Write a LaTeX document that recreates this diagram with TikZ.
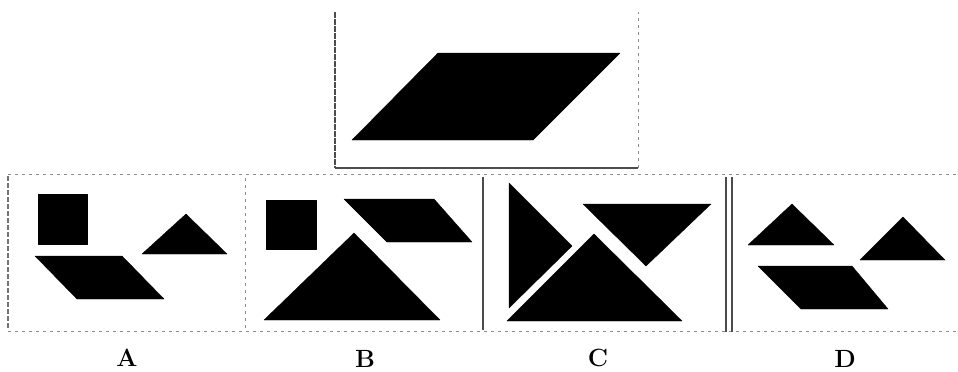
\documentclass[tikz,border=0pt]{standalone}
\begin{document}
\begin{tikzpicture}[x=1bp,y=-1bp,
  piece/.style={fill=black,draw=black,line join=round},
  solidframe/.style={draw=black!70,line width=1.2bp},
  dotframe/.style={draw=black!45,line width=0.9bp,dash pattern=on 3bp off 4bp},
  lbl/.style={font=\fontsize{25}{30}\selectfont\bfseries,inner sep=0pt}]
\useasboundingbox (0,0) rectangle (958,371);
% top frame
\draw[solidframe,dash pattern=on 6bp off 1bp] (335,12) -- (335,168);
\draw[solidframe] (335,168) -- (638,168);
\draw[dotframe] (638,168) -- (638,12);
% top parallelogram
\filldraw[piece] (438,53) -- (620,53) -- (533,140) -- (352,140) -- cycle;
% panel frames
\draw[dotframe] (8,174) -- (958,174);
\draw[dotframe] (8,331) -- (958,331);
\draw[solidframe,draw=black!55,dash pattern=on 5bp off 2bp] (8,176) -- (8,330);
\draw[dotframe] (245,178) -- (245,328);
\draw[solidframe] (483,177) -- (483,330);
\draw[solidframe,line width=1.4bp] (726,177) -- (726,332);
\draw[solidframe,line width=1.4bp] (732,177) -- (732,332);
% panel A
\filldraw[piece] (38,194) rectangle (87,244);
\filldraw[piece] (35,256) -- (122,256) -- (164,299) -- (77,299) -- cycle;
\filldraw[piece] (186,214) -- (227,254) -- (142,254) -- cycle;
\node[lbl] (la) at (127,358) {A};
% panel B
\filldraw[piece] (266,200) rectangle (316,249);
\filldraw[piece] (344,199) -- (434,199) -- (472,242) -- (387,242) -- cycle;
\filldraw[piece] (354,233) -- (440,320) -- (264,320) -- cycle;
\node[lbl] (lb) at (365,359) {B};
% panel C
\filldraw[piece] (509,183) -- (572,246) -- (509,308) -- cycle;
\filldraw[piece] (594,234) -- (682,321) -- (507,321) -- cycle;
\filldraw[piece] (583,204) -- (711,204) -- (646,266) -- cycle;
\node[lbl] (lc) at (598,358) {C};
% panel D
\filldraw[piece] (792,204) -- (834,245) -- (748,245) -- cycle;
\filldraw[piece] (903,217) -- (945,260) -- (860,260) -- cycle;
\filldraw[piece] (758,266) -- (852,266) -- (888,309) -- (801,309) -- cycle;
\node[lbl] (ld) at (845,359) {D};
\end{tikzpicture}
\end{document}
